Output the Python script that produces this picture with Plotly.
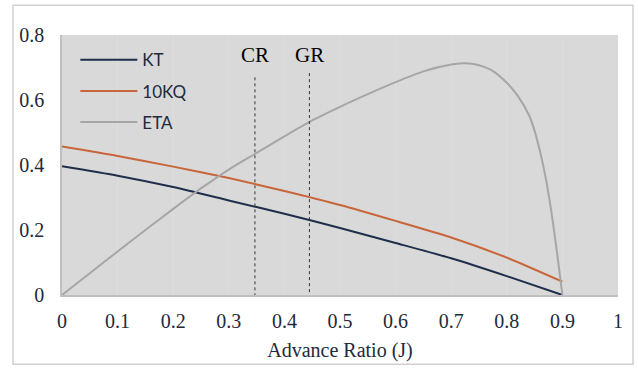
import plotly.graph_objects as go

# ---- data ----
J_perf = [0.0, 0.1, 0.2, 0.3, 0.4, 0.5, 0.6, 0.7, 0.8, 0.9]
KT = [0.396, 0.367, 0.332, 0.291, 0.250, 0.206, 0.160, 0.113, 0.058, 0.0]
KQ10 = [0.457, 0.428, 0.395, 0.360, 0.320, 0.277, 0.228, 0.177, 0.115, 0.041]

J_eta = [0.0, 0.05, 0.1, 0.15, 0.2, 0.25, 0.3, 0.35, 0.4, 0.45, 0.5, 0.55,
         0.6, 0.65, 0.7, 0.72, 0.74, 0.77, 0.8, 0.82, 0.84, 0.85, 0.86, 0.87,
         0.88, 0.89, 0.9]
ETA = [0.0, 0.067, 0.134, 0.200, 0.265, 0.328, 0.386, 0.437, 0.488, 0.537,
       0.579, 0.618, 0.655, 0.688, 0.709, 0.713, 0.711, 0.694, 0.653, 0.612,
       0.553, 0.505, 0.440, 0.360, 0.258, 0.135, 0.0]

markers_J = [0.347, 0.445]
markers_label = ["CR", "GR"]
markers_ylow = [-0.041, -0.028]
markers_yhigh = [0.674, 0.688]

x_ticks = [0, 0.1, 0.2, 0.3, 0.4, 0.5, 0.6, 0.7, 0.8, 0.9, 1]
x_ticklabels = ["0", "0.1", "0.2", "0.3", "0.4", "0.5", "0.6", "0.7", "0.8", "0.9", "1"]
y_ticks = [0, 0.2, 0.4, 0.6, 0.8]
y_ticklabels = ["0", "0.2", "0.4", "0.6", "0.8"]

NAVY = "#1f2e4a"
ORANGE = "#c8653a"
GRAY = "#a6a6a6"
TXT = "#222a3a"
SERIF = "Liberation Serif, Times New Roman, serif"
SANS = "Lato, Open Sans, sans-serif"

fig = go.Figure()
fig.add_trace(go.Scatter(x=J_perf, y=KT, mode="lines", name="KT",
                         line=dict(color=NAVY, width=2, shape="spline", smoothing=0.6),
                         legendgroup="a"))
fig.add_trace(go.Scatter(x=J_perf, y=KQ10, mode="lines", name="10KQ",
                         line=dict(color=ORANGE, width=2, shape="spline", smoothing=0.6),
                         legendgroup="b"))
fig.add_trace(go.Scatter(x=J_eta, y=ETA, mode="lines", name="ETA",
                         line=dict(color=GRAY, width=2, shape="spline", smoothing=0.7),
                         legendgroup="c"))

for xj, lo, hi, lab in zip(markers_J, markers_ylow, markers_yhigh, markers_label):
    fig.add_trace(go.Scatter(x=[xj, xj], y=[lo, hi], mode="lines", showlegend=False,
                             cliponaxis=False, hoverinfo="skip",
                             line=dict(color="#333333", width=1, dash="dot")))
    fig.add_annotation(x=xj, y=0.737, text=lab, showarrow=False,
                       font=dict(family=SERIF, size=21, color="#000000"),
                       xref="x", yref="y")

fig.add_shape(type="rect", xref="paper", yref="paper",
              x0=-0.0881, x1=1.027, y0=-0.266, y1=1.114,
              line=dict(color="#d0d0d0", width=1.5), fillcolor="rgba(0,0,0,0)",
              layer="above")

fig.update_layout(
    width=638, height=370,
    margin=dict(l=62, r=20, t=35, b=72),
    paper_bgcolor="white",
    plot_bgcolor="#d9d9d9",
    showlegend=True,
    legend=dict(x=0.024, y=0.972, xanchor="left", yanchor="top",
                bgcolor="rgba(0,0,0,0)", font=dict(family=SANS, size=17, color=TXT),
                itemwidth=57, tracegroupgap=6, traceorder="grouped"),
    xaxis=dict(range=[0, 1], tickvals=x_ticks, ticktext=x_ticklabels,
               showgrid=True, gridcolor="#dddddd", gridwidth=1,
               showline=True, linecolor="#bfbfbf", linewidth=1.5,
               zeroline=False, ticks="", ticklabelstandoff=7,
               tickfont=dict(family=SERIF, size=20, color=TXT),
               title=dict(text="Advance Ratio (J)", standoff=12,
                          font=dict(family=SERIF, size=20, color=TXT))),
    yaxis=dict(range=[0, 0.8], tickvals=y_ticks, ticktext=y_ticklabels,
               showgrid=False, showline=True, linecolor="#bfbfbf", linewidth=1.5,
               zeroline=False, ticks="", ticklabelstandoff=12,
               tickfont=dict(family=SERIF, size=20, color=TXT)),
)

fig.write_html("out.html", config={"displayModeBar": False},
               post_script="document.body.style.margin='0';")
